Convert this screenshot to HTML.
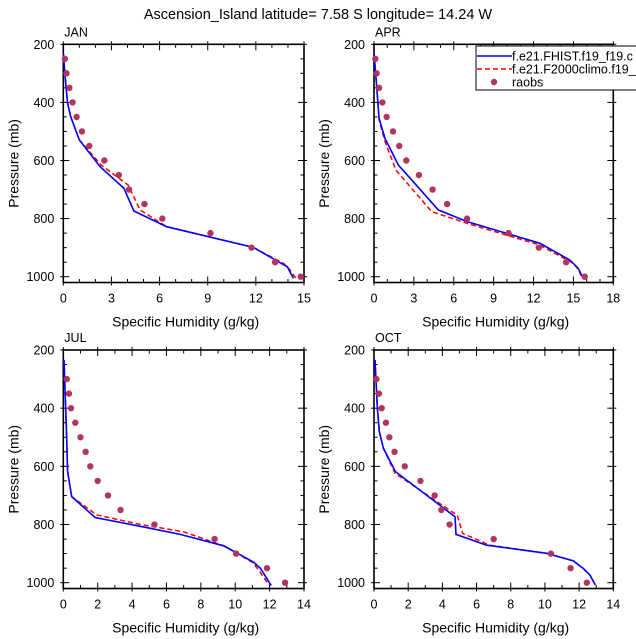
<!DOCTYPE html>
<html><head><meta charset="utf-8"><style>
body{margin:0;background:#fff;}
svg{display:block;font-family:"Liberation Sans",Arial,sans-serif;}
</style></head><body>
<svg id="c" width="636" height="639" viewBox="0 0 636 639">
<text x="318" y="19" text-anchor="middle" font-size="14.5">Ascension_Island  latitude= 7.58 S longitude= 14.24 W</text>
</svg>
<script>
const months=["JAN","APR","JUL","OCT"];
const xMaxes=[15,18,14,14];
const xSteps=[3,3,2,2];
const yTicks=[200,400,600,800,1000];
const obsP=[250,300,350,400,450,500,550,600,650,700,750,800,850,900,950,1000];
const obsJAN=[0.1,0.2,0.38,0.58,0.83,1.16,1.62,2.56,3.46,4.1,5.06,6.17,9.17,11.73,13.2,14.8];
const obsAPR=[0.1,0.2,0.38,0.63,0.95,1.43,1.9,2.43,3.38,4.41,5.5,7.0,10.12,12.4,14.45,15.85];
const obsJUL=[null,0.2,0.33,0.45,0.7,1.0,1.3,1.57,2.0,2.6,3.33,5.3,8.8,10.05,11.85,12.9];
const obsOCT=[null,0.14,0.29,0.45,0.7,0.9,1.2,1.8,2.72,3.55,3.94,4.42,7.0,10.35,11.5,12.45];
const histP_JAN=[231,334,403,449,529,621,696,774,828,899,966,1006];
const histQ_JAN=[0,0.15,0.27,0.46,1.0,2.29,3.78,4.4,6.44,11.84,13.96,14.34];
const climP_JAN=[231,334,403,449,529,615,685,770,828,899,955,975,1006];
const climQ_JAN=[0,0.15,0.27,0.46,1.0,2.35,4.05,4.78,6.44,11.84,13.75,14.1,14.5];
const histP_APR=[231,346,455,524,615,770,810,851,885,943,971,1006];
const histQ_APR=[0,0.2,0.38,0.83,1.83,4.84,6.97,9.98,12.48,14.74,15.36,15.74];
const climP_APR=[231,346,460,535,633,776,816,857,890,954,975,1006];
const climQ_APR=[0,0.2,0.38,0.83,1.65,4.34,6.97,9.98,12.4,15.0,15.35,15.69];
const histP_JUL=[234,492,618,704,776,813,834,873,930,951,1010];
const histQ_JUL=[0.04,0.19,0.25,0.49,1.85,5.06,6.8,9.33,11.08,11.47,12.09];
const climP_JUL=[234,492,618,704,767,800,825,873,930,957,1008];
const climQ_JUL=[0.04,0.19,0.25,0.49,1.94,4.5,7.0,9.33,11.0,11.37,11.96];
const histP_OCT=[234,401,481,538,618,773,834,871,899,925,951,974,1008];
const histQ_OCT=[0.06,0.2,0.31,0.55,1.25,4.74,4.8,6.59,10.1,11.66,12.24,12.63,12.95];
const climP_OCT=[234,401,481,538,624,768,831,871,899,925,951,974,1008];
const climQ_OCT=[0.06,0.2,0.31,0.55,1.23,4.87,5.19,6.78,10.1,11.66,12.24,12.63,12.95];
const obsAll=[obsJAN,obsAPR,obsJUL,obsOCT];
const histP=[histP_JAN,histP_APR,histP_JUL,histP_OCT];
const histQ=[histQ_JAN,histQ_APR,histQ_JUL,histQ_OCT];
const climP=[climP_JAN,climP_APR,climP_JUL,climP_OCT];
const climQ=[climQ_JAN,climQ_APR,climQ_JUL,climQ_OCT];

const svg=document.getElementById('c');
const NS='http://www.w3.org/2000/svg';
function mk(tag,attrs,parent){const e=document.createElementNS(NS,tag);for(const k in attrs)e.setAttribute(k,attrs[k]);(parent||svg).appendChild(e);return e;}
const boxes=[{l:63.3,r:304,t:44.3,b0:276.7},{l:374,r:613.3,t:44.3,b0:276.7},{l:63.3,r:304,t:350,b0:582.7},{l:374,r:613.3,t:350,b0:582.7}];
for(let i=0;i<4;i++){
  const B=boxes[i];
  const g=mk('g',{});
  
  
  const X=v=>B.l+v/xMaxes[i]*(B.r-B.l);
  const Y=p=>B.t+(p-200)/800*(B.b0-B.t);
  const bot=Y(1020);
  const fr=mk('rect',{x:B.l,y:B.t,width:B.r-B.l,height:bot-B.t,fill:'none',stroke:'#000','stroke-width':1.6},g);
  
  
  // y ticks
  for(let p=200;p<=1000;p+=50){
    const maj=p%200===0, len=maj?6:3.5, y=Y(p);
    mk('line',{x1:B.l,x2:B.l+len,y1:y,y2:y,stroke:'#000','stroke-width':1},g);
    mk('line',{x1:B.r,x2:B.r-len,y1:y,y2:y,stroke:'#000','stroke-width':1},g);
    if(maj){mk('line',{x1:B.l-3,x2:B.l,y1:y,y2:y,stroke:'#000','stroke-width':1},g);mk('line',{x1:B.r,x2:B.r+3,y1:y,y2:y,stroke:'#000','stroke-width':1},g);}
  }
  yTicks.forEach(p=>{const t=mk('text',{x:B.l-9,y:Y(p)+4.5,'text-anchor':'end','font-size':12.5},g);t.textContent=p;
    });
  for(let v=0;v<=xMaxes[i]+1e-6;v+=1){
    const maj=Math.abs(v/xSteps[i]-Math.round(v/xSteps[i]))<1e-6, len=maj?6:3.5, x=X(v);
    mk('line',{x1:x,x2:x,y1:bot,y2:bot-len,stroke:'#000','stroke-width':1},g);
    mk('line',{x1:x,x2:x,y1:B.t,y2:B.t+len,stroke:'#000','stroke-width':1},g);
    if(maj){mk('line',{x1:x,x2:x,y1:B.t,y2:B.t-3,stroke:'#000','stroke-width':1},g);mk('line',{x1:x,x2:x,y1:bot,y2:bot+3,stroke:'#000','stroke-width':1},g);
      const t=mk('text',{x:x,y:bot+20,'text-anchor':'middle','font-size':12.5},g);t.textContent=Math.round(v);
      }
  }
  const xt=mk('text',{x:(B.l+B.r)/2+2,y:bot+44,'text-anchor':'middle','font-size':14},g);xt.textContent='Specific Humidity (g/kg)';
  
  const yt=mk('text',{x:0,y:0,'text-anchor':'middle','font-size':14,transform:`translate(${B.l-45},${(B.t+bot)/2}) rotate(-90)`},g);yt.textContent='Pressure (mb)';
  
  const mt=mk('text',{x:B.l+1,y:B.t-8,'font-size':12.5},g);mt.textContent=months[i];
  
  const pts=(P,Q)=>P.map((p,k)=>X(Q[k]).toFixed(1)+','+Y(p).toFixed(1)).join(' ');
  const rl=mk('polyline',{points:pts(climP[i],climQ[i]),fill:'none',stroke:'#ff0000','stroke-width':1.5,'stroke-dasharray':'5,3'},g);
  
  const bl=mk('polyline',{points:pts(histP[i],histQ[i]),fill:'none',stroke:'#0000ff','stroke-width':1.6},g);
  
  obsP.forEach((p,k)=>{const q=obsAll[i][k];if(q==null)return;
    const c=mk('circle',{cx:X(q),cy:Y(p),r:3.2,fill:'#b0365f'},g);
    });
}
// legend
const lg=mk('g',{});


mk('rect',{x:476,y:46,width:170,height:44,fill:'#fff',stroke:'#000','stroke-width':1},lg);
const le=[['f.e21.FHIST.f19_f19.c','#0000ff',''],['f.e21.F2000climo.f19_','#ff0000','5,3'],['raobs','#b0365f',null]];
le.forEach((e,k)=>{const y=56+k*13;
  const it=mk('g',{},lg);
  
  
  if(e[2]===null)mk('circle',{cx:494,cy:y,r:3.2,fill:e[1]},it);
  else mk('line',{x1:477,x2:512,y1:y,y2:y,stroke:e[1],'stroke-width':1.5,'stroke-dasharray':e[2]||'none'},it);
  const t=mk('text',{x:512,y:y+4.5,'font-size':12.5},it);t.textContent=e[0];});
</script>
</body></html>
